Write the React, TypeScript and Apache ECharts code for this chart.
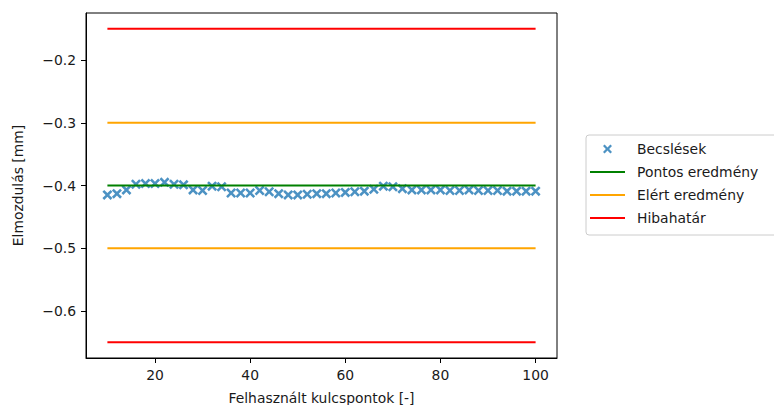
import React, { useEffect, useRef } from "react";
import * as echarts from "echarts";

// Estimates (Becslések)
const estimateX = [
  10, 12, 14, 16, 18, 20, 22, 24, 26, 28, 30, 32, 34, 36, 38, 40, 42, 44, 46, 48,
  50, 52, 54, 56, 58, 60, 62, 64, 66, 68, 70, 72, 74, 76, 78, 80, 82, 84, 86, 88,
  90, 92, 94, 96, 98, 100,
];
const estimateY = [
  -0.415, -0.413, -0.407, -0.398, -0.397, -0.397, -0.395, -0.398, -0.399, -0.407,
  -0.408, -0.401, -0.402, -0.412, -0.412, -0.412, -0.408, -0.410, -0.413, -0.415,
  -0.415, -0.414, -0.413, -0.413, -0.412, -0.411, -0.410, -0.409, -0.406, -0.401,
  -0.402, -0.405, -0.407, -0.407, -0.407, -0.407, -0.408, -0.408, -0.407, -0.408,
  -0.408, -0.408, -0.409, -0.409, -0.409, -0.409,
];

// Reference lines
const lineX = [10, 100];
const exactValue = -0.4; // Pontos eredmény
const achievedBounds = [-0.3, -0.5]; // Elért eredmény
const errorBounds = [-0.15, -0.65]; // Hibahatár

// Axes
const xTicks = [20, 40, 60, 80, 100];
const yTicks = [-0.6, -0.5, -0.4, -0.3, -0.2];
const xRange = [5.5, 104.5];
const yRange = [-0.675, -0.125];

const legendNames = ["Becslések", "Pontos eredmény", "Elért eredmény", "Hibahatár"];

const FONT = "DejaVu Sans";
const FS = 13.9;
const TXT = "#1a1a1a";

const crossPath =
  "path://M0,1.8L1.8,0L5,3.2L8.2,0L10,1.8L6.8,5L10,8.2L8.2,10L5,6.8L1.8,10L0,8.2L3.2,5Z";
const lineIcon = "path://M0,0L35,0L35,2L0,2Z";

const fmt = (v: number) => (v < 0 ? "\u2212" : "") + Math.abs(v).toFixed(1);

function hLine(name: string, y: number, color: string) {
  return {
    name,
    type: "line",
    data: lineX.map((x) => [x, y]),
    symbol: "none",
    lineStyle: { color, width: 2 },
    itemStyle: { color },
    z: 3,
    silent: true,
  };
}

export default function App() {
  const ref = useRef<HTMLDivElement>(null);
  useEffect(() => {
    if (!ref.current) return;
    const chart = echarts.init(ref.current, null, { renderer: "svg" });
    const series: any[] = [
      {
        name: legendNames[0],
        type: "scatter",
        data: estimateX.map((x, i) => [x, estimateY[i]]),
        symbol: crossPath,
        symbolSize: 10,
        symbolKeepAspect: true,
        itemStyle: { color: "#1f77b4" },
        z: 2,
      },
      hLine(legendNames[1], exactValue, "#008000"),
      ...achievedBounds.map((v) => hLine(legendNames[2], v, "#ffa500")),
      ...errorBounds.map((v) => hLine(legendNames[3], v, "#ff0000")),
    ];
    chart.setOption({
      animation: false,
      backgroundColor: "#ffffff",
      textStyle: { fontFamily: FONT },
      grid: {
        left: 86,
        right: 217,
        top: 13,
        bottom: 47,
        show: true,
        borderColor: "#000",
        borderWidth: 1,
        backgroundColor: "transparent",
        containLabel: false,
        outerBoundsMode: "none",
      },
      legend: {
        data: [
          { name: legendNames[0] },
          { name: legendNames[1], icon: lineIcon },
          { name: legendNames[2], icon: lineIcon },
          { name: legendNames[3], icon: lineIcon },
        ],
        orient: "vertical",
        left: 586,
        top: 135,
        padding: [6, 40, 9, 4],
        itemWidth: 35,
        itemHeight: 9,
        itemGap: 7,
        symbolKeepAspect: true,
        backgroundColor: "rgba(255,255,255,0.8)",
        borderColor: "#cccccc",
        borderWidth: 1,
        borderRadius: 3,
        selectedMode: false,
        textStyle: {
          fontFamily: FONT,
          fontSize: FS,
          color: TXT,
          lineHeight: 16,
          padding: [0, 0, 0, 7],
        },
      },
      xAxis: {
        type: "value",
        min: xRange[0],
        max: xRange[1],
        name: "Felhasznált kulcspontok [-]",
        nameLocation: "middle",
        nameGap: 33,
        nameTextStyle: { fontFamily: FONT, fontSize: FS, color: TXT, verticalAlign: "top" },
        axisLine: { show: true, onZero: false, lineStyle: { color: "#000", width: 1 } },
        axisTick: {
          show: true,
          length: 5,
          lineStyle: { color: "#000", width: 1 },
          customValues: xTicks,
        },
        axisLabel: {
          fontFamily: FONT,
          fontSize: FS,
          color: TXT,
          margin: 10,
          customValues: xTicks,
          formatter: (v: number) => String(v),
        },
        splitLine: { show: false },
      },
      yAxis: {
        type: "value",
        min: yRange[0],
        max: yRange[1],
        name: "Elmozdulás [mm]",
        nameLocation: "middle",
        nameGap: 61,
        nameRotate: 90,
        nameTextStyle: { fontFamily: FONT, fontSize: FS, color: TXT },
        axisLine: { show: true, onZero: false, lineStyle: { color: "#000", width: 1 } },
        axisTick: {
          show: true,
          length: 5,
          lineStyle: { color: "#000", width: 1 },
          customValues: yTicks,
        },
        axisLabel: {
          fontFamily: FONT,
          fontSize: FS,
          color: TXT,
          margin: 10,
          customValues: yTicks,
          formatter: (v: number) => fmt(v),
        },
        splitLine: { show: false },
      },
      series,
    });
    return () => chart.dispose();
  }, []);
  return (
    <div
      ref={ref}
      style={{ position: "absolute", left: 0, top: 0, width: 774, height: 405 }}
    />
  );
}
